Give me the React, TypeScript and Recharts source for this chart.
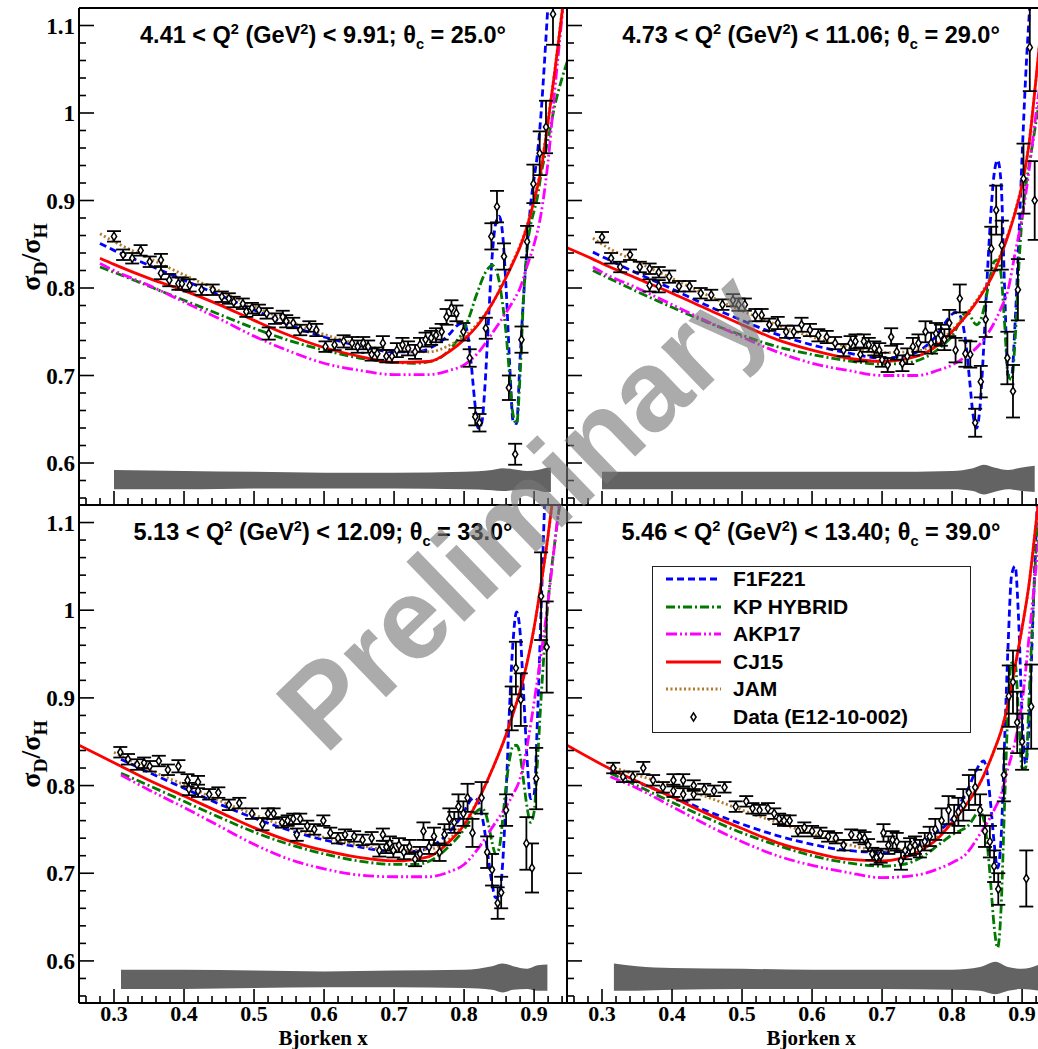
import React from "react";
import { ComposedChart, Line, Area, Scatter, ErrorBar, XAxis, YAxis } from "recharts";

// axis ticks
const X_MAJOR = [0.3, 0.4, 0.5, 0.6, 0.7, 0.8, 0.9];
const X_LABELS = ["0.3", "0.4", "0.5", "0.6", "0.7", "0.8", "0.9"];
const X_MINOR = [0.26, 0.28, 0.32, 0.34, 0.36, 0.38, 0.42, 0.44, 0.46, 0.48, 0.52, 0.54, 0.56, 0.58, 0.62, 0.64, 0.66, 0.68, 0.72, 0.74, 0.76, 0.78, 0.82, 0.84, 0.86, 0.88, 0.92, 0.94];
const Y_MAJOR = [0.6, 0.7, 0.8, 0.9, 1.0, 1.1];
const Y_LABELS = ["0.6", "0.7", "0.8", "0.9", "1", "1.1"];
const Y_MINOR = [0.56, 0.58, 0.62, 0.64, 0.66, 0.68, 0.72, 0.74, 0.76, 0.78, 0.82, 0.84, 0.86, 0.88, 0.92, 0.94, 0.96, 0.98, 1.02, 1.04, 1.06, 1.08];
const X_TICKS = [...X_MAJOR, ...X_MINOR].sort((a, b) => a - b);
const Y_TICKS = [...Y_MAJOR, ...Y_MINOR].sort((a, b) => a - b);
const X_DOMAIN: [number, number] = [0.25, 0.947];
const Y_DOMAIN: [number, number] = [0.552, 1.12];
const X_TITLE = "Bjorken x";

// panel headers
const Q2_LOW = ["4.41", "4.73", "5.13", "5.46"];
const Q2_HIGH = ["9.91", "11.06", "12.09", "13.40"];
const THETA_C = ["25.0", "29.0", "33.0", "39.0"];

const LEGEND_NAMES = ["F1F221", "KP HYBRID", "AKP17", "CJ15", "JAM", "Data (E12-10-002)"];

// ---------- panel 1: 4.41 < Q2 < 9.91 ----------
const P1_SMOOTH_X = [0.28, 0.3, 0.35, 0.4, 0.45, 0.5, 0.55, 0.6, 0.65, 0.7, 0.75, 0.78, 0.8, 0.82, 0.84, 0.86, 0.87, 0.88, 0.89, 0.9, 0.91, 0.92, 0.93, 0.94, 0.95];
const P1_CJ15 = [0.834, 0.827, 0.811, 0.797, 0.781, 0.763, 0.746, 0.732, 0.722, 0.715, 0.716, 0.728, 0.741, 0.758, 0.782, 0.812, 0.829, 0.847, 0.87, 0.9, 0.935, 0.99, 1.05, 1.115, 1.18];
const P1_JAM = [0.862, 0.853, 0.834, 0.815, 0.797, 0.779, 0.762, 0.747, 0.736, 0.728, 0.727, 0.735, 0.745, 0.76, 0.782, 0.813, 0.831, 0.849, 0.872, 0.902, 0.938, 0.993, 1.052, 1.117, 1.18];
const P1_AKP17 = [0.828, 0.82, 0.803, 0.784, 0.765, 0.745, 0.728, 0.714, 0.706, 0.701, 0.701, 0.706, 0.712, 0.726, 0.748, 0.772, 0.785, 0.8, 0.825, 0.85, 0.885, 0.945, 1.03, 1.11, 1.19];
const P1_RES_X = [0.28, 0.3, 0.35, 0.4, 0.45, 0.5, 0.55, 0.6, 0.65, 0.7, 0.73, 0.76, 0.78, 0.79, 0.8, 0.805, 0.81, 0.815, 0.82, 0.825, 0.83, 0.835, 0.84, 0.845, 0.85, 0.855, 0.86, 0.865, 0.87, 0.875, 0.88, 0.885, 0.89, 0.895, 0.9, 0.905, 0.91, 0.915, 0.92, 0.93, 0.94, 0.95];
const P1_F1F221 = [0.851, 0.843, 0.826, 0.809, 0.792, 0.775, 0.758, 0.744, 0.734, 0.727, 0.727, 0.735, 0.748, 0.757, 0.76, 0.748, 0.715, 0.672, 0.64, 0.645, 0.69, 0.765, 0.835, 0.873, 0.882, 0.862, 0.8, 0.715, 0.648, 0.645, 0.72, 0.79, 0.845, 0.895, 0.925, 0.955, 1.0, 1.06, 1.125, 1.22, 1.3, 1.38];
const P1_KP = [0.824, 0.818, 0.802, 0.786, 0.77, 0.754, 0.74, 0.729, 0.72, 0.715, 0.714, 0.718, 0.73, 0.74, 0.752, 0.762, 0.773, 0.786, 0.797, 0.808, 0.817, 0.823, 0.826, 0.822, 0.808, 0.782, 0.748, 0.7, 0.655, 0.645, 0.7, 0.79, 0.845, 0.872, 0.888, 0.905, 0.93, 0.95, 0.97, 1.01, 1.04, 1.065];
const P1_DATA_X = [0.3, 0.313, 0.326, 0.338, 0.351, 0.367, 0.367, 0.379, 0.392, 0.397, 0.408, 0.425, 0.441, 0.454, 0.464, 0.471, 0.484, 0.489, 0.497, 0.507, 0.518, 0.521, 0.53, 0.541, 0.546, 0.556, 0.566, 0.579, 0.589, 0.602, 0.615, 0.628, 0.64, 0.648, 0.656, 0.663, 0.668, 0.676, 0.684, 0.689, 0.697, 0.704, 0.712, 0.72, 0.73, 0.737, 0.745, 0.753, 0.76, 0.768, 0.775, 0.782, 0.789, 0.799, 0.808, 0.816, 0.822, 0.831, 0.839, 0.847, 0.857, 0.864, 0.873, 0.882, 0.89, 0.899, 0.908, 0.917, 0.927];
const P1_DATA_Y = [0.859, 0.838, 0.834, 0.843, 0.83, 0.832, 0.817, 0.809, 0.805, 0.805, 0.803, 0.798, 0.798, 0.79, 0.788, 0.784, 0.782, 0.773, 0.777, 0.775, 0.771, 0.748, 0.765, 0.767, 0.762, 0.76, 0.752, 0.756, 0.752, 0.733, 0.735, 0.739, 0.737, 0.733, 0.737, 0.733, 0.724, 0.725, 0.737, 0.722, 0.722, 0.729, 0.735, 0.731, 0.727, 0.735, 0.741, 0.743, 0.746, 0.75, 0.767, 0.777, 0.771, 0.75, 0.72, 0.653, 0.646, 0.754, 0.859, 0.893, 0.836, 0.686, 0.61, 0.741, 0.853, 0.919, 0.954, 0.984, 1.113];
const P1_DATA_ERR = [0.006, 0.006, 0.006, 0.006, 0.006, 0.007, 0.007, 0.007, 0.007, 0.007, 0.007, 0.006, 0.006, 0.006, 0.006, 0.006, 0.006, 0.006, 0.006, 0.006, 0.006, 0.007, 0.006, 0.007, 0.007, 0.006, 0.006, 0.006, 0.007, 0.006, 0.006, 0.007, 0.007, 0.007, 0.007, 0.007, 0.007, 0.007, 0.008, 0.007, 0.007, 0.008, 0.008, 0.008, 0.008, 0.008, 0.008, 0.008, 0.008, 0.009, 0.009, 0.009, 0.009, 0.01, 0.01, 0.01, 0.01, 0.012, 0.015, 0.018, 0.015, 0.014, 0.012, 0.015, 0.018, 0.022, 0.025, 0.03, 0.035];
const P1_BAND_X = [0.3, 0.4, 0.5, 0.6, 0.7, 0.8, 0.84, 0.855, 0.87, 0.89, 0.905, 0.915, 0.924];
const P1_BAND_LO = [0.57, 0.57, 0.571, 0.571, 0.571, 0.57, 0.569, 0.568, 0.569, 0.57, 0.569, 0.567, 0.567];
const P1_BAND_HI = [0.592, 0.591, 0.59, 0.589, 0.589, 0.59, 0.592, 0.594, 0.593, 0.591, 0.592, 0.594, 0.595];

// ---------- panel 2: 4.73 < Q2 < 11.06 ----------
const P2_SMOOTH_X = [0.25, 0.287, 0.3, 0.35, 0.4, 0.45, 0.5, 0.55, 0.6, 0.65, 0.7, 0.75, 0.78, 0.8, 0.82, 0.84, 0.86, 0.87, 0.88, 0.89, 0.9, 0.91, 0.92, 0.93, 0.94];
const P2_CJ15 = [0.846, 0.833, 0.828, 0.811, 0.794, 0.776, 0.758, 0.741, 0.729, 0.72, 0.716, 0.722, 0.735, 0.75, 0.768, 0.79, 0.818, 0.838, 0.86, 0.886, 0.918, 0.965, 1.04, 1.12, 1.2];
const P2_JAM = [null, 0.857, 0.85, 0.83, 0.811, 0.792, 0.774, 0.758, 0.744, 0.733, 0.726, 0.728, 0.738, 0.752, 0.77, 0.792, 0.82, 0.84, 0.862, 0.888, 0.92, 0.967, 1.04, 1.12, 1.2];
const P2_AKP17 = [null, 0.824, 0.818, 0.8, 0.781, 0.762, 0.744, 0.727, 0.714, 0.706, 0.7, 0.7, 0.706, 0.712, 0.722, 0.736, 0.76, 0.777, 0.798, 0.84, 0.88, 0.935, 1.0, 1.06, 1.12];
const P2_RES_X = [0.287, 0.3, 0.35, 0.4, 0.45, 0.5, 0.55, 0.6, 0.65, 0.7, 0.73, 0.76, 0.78, 0.79, 0.8, 0.805, 0.81, 0.815, 0.82, 0.825, 0.83, 0.835, 0.84, 0.845, 0.85, 0.855, 0.86, 0.865, 0.87, 0.875, 0.88, 0.885, 0.89, 0.895, 0.9, 0.905, 0.91, 0.915, 0.92, 0.93, 0.94];
const P2_F1F221 = [0.841, 0.836, 0.817, 0.799, 0.78, 0.763, 0.747, 0.735, 0.726, 0.72, 0.722, 0.732, 0.748, 0.76, 0.77, 0.772, 0.77, 0.76, 0.735, 0.695, 0.655, 0.64, 0.665, 0.73, 0.81, 0.88, 0.93, 0.946, 0.92, 0.8, 0.7, 0.7, 0.76, 0.85, 0.95, 1.04, 1.11, 1.17, 1.22, 1.3, 1.38];
const P2_KP = [0.82, 0.815, 0.796, 0.778, 0.761, 0.746, 0.733, 0.724, 0.717, 0.713, 0.714, 0.72, 0.73, 0.737, 0.745, 0.752, 0.76, 0.768, 0.772, 0.77, 0.762, 0.758, 0.762, 0.775, 0.795, 0.815, 0.83, 0.832, 0.815, 0.76, 0.7, 0.695, 0.74, 0.82, 0.88, 0.915, 0.94, 0.965, 0.99, 1.04, 1.08];
const P2_DATA_X = [0.3, 0.313, 0.326, 0.34, 0.354, 0.368, 0.368, 0.381, 0.381, 0.396, 0.41, 0.425, 0.441, 0.456, 0.472, 0.487, 0.495, 0.504, 0.519, 0.528, 0.539, 0.551, 0.563, 0.574, 0.585, 0.597, 0.609, 0.621, 0.633, 0.645, 0.655, 0.662, 0.669, 0.674, 0.681, 0.689, 0.696, 0.7, 0.708, 0.713, 0.721, 0.729, 0.736, 0.744, 0.752, 0.762, 0.77, 0.777, 0.784, 0.789, 0.796, 0.805, 0.811, 0.819, 0.826, 0.833, 0.841, 0.848, 0.856, 0.863, 0.871, 0.879, 0.887, 0.894, 0.902, 0.911, 0.918];
const P2_DATA_Y = [0.858, 0.834, 0.824, 0.838, 0.824, 0.822, 0.803, 0.818, 0.802, 0.813, 0.802, 0.802, 0.794, 0.792, 0.781, 0.786, 0.781, 0.781, 0.769, 0.769, 0.758, 0.76, 0.75, 0.75, 0.758, 0.752, 0.746, 0.744, 0.737, 0.729, 0.737, 0.739, 0.724, 0.739, 0.735, 0.731, 0.729, 0.718, 0.712, 0.744, 0.727, 0.714, 0.722, 0.733, 0.737, 0.75, 0.737, 0.748, 0.746, 0.741, 0.76, 0.729, 0.788, 0.725, 0.724, 0.646, 0.693, 0.764, 0.845, 0.889, 0.849, 0.72, 0.682, 0.798, 0.925, 1.075, 0.9];
const P2_DATA_ERR = [0.006, 0.006, 0.006, 0.006, 0.006, 0.006, 0.007, 0.006, 0.007, 0.007, 0.006, 0.006, 0.006, 0.006, 0.006, 0.007, 0.007, 0.007, 0.007, 0.007, 0.007, 0.007, 0.007, 0.007, 0.008, 0.007, 0.007, 0.007, 0.007, 0.007, 0.008, 0.008, 0.008, 0.008, 0.008, 0.008, 0.008, 0.008, 0.008, 0.01, 0.009, 0.009, 0.009, 0.01, 0.01, 0.012, 0.012, 0.012, 0.012, 0.012, 0.015, 0.014, 0.016, 0.015, 0.015, 0.016, 0.018, 0.02, 0.025, 0.028, 0.028, 0.03, 0.03, 0.035, 0.04, 0.05, 0.045];
const P2_BAND_X = [0.3, 0.4, 0.5, 0.6, 0.7, 0.8, 0.83, 0.845, 0.86, 0.88, 0.9, 0.918];
const P2_BAND_LO = [0.57, 0.57, 0.57, 0.57, 0.57, 0.57, 0.568, 0.564, 0.567, 0.57, 0.568, 0.567];
const P2_BAND_HI = [0.59, 0.59, 0.59, 0.59, 0.59, 0.591, 0.594, 0.598, 0.595, 0.592, 0.595, 0.597];

// ---------- panel 3: 5.13 < Q2 < 12.09 ----------
const P3_SMOOTH_X = [0.25, 0.3, 0.31, 0.35, 0.4, 0.45, 0.5, 0.55, 0.6, 0.65, 0.7, 0.75, 0.78, 0.8, 0.82, 0.84, 0.86, 0.87, 0.88, 0.89, 0.9, 0.91, 0.92, 0.93, 0.94, 0.95];
const P3_CJ15 = [0.846, 0.826, 0.822, 0.806, 0.788, 0.77, 0.752, 0.737, 0.726, 0.718, 0.714, 0.719, 0.737, 0.755, 0.783, 0.818, 0.858, 0.882, 0.908, 0.94, 0.98, 1.03, 1.085, 1.15, 1.22, 1.3];
const P3_JAM = [null, 0.838, 0.834, 0.818, 0.801, 0.783, 0.767, 0.752, 0.741, 0.732, 0.726, 0.727, 0.74, 0.757, 0.784, 0.818, 0.858, 0.882, 0.908, 0.94, 0.98, 1.03, 1.085, 1.15, 1.22, 1.3];
const P3_AKP17 = [null, null, 0.812, 0.795, 0.775, 0.754, 0.733, 0.716, 0.705, 0.698, 0.696, 0.696, 0.702, 0.71, 0.728, 0.752, 0.776, 0.79, 0.808, 0.845, 0.895, 0.95, 1.01, 1.08, 1.15, 1.22];
const P3_RES_X = [0.31, 0.35, 0.4, 0.45, 0.5, 0.55, 0.6, 0.65, 0.7, 0.73, 0.76, 0.78, 0.79, 0.8, 0.805, 0.81, 0.815, 0.82, 0.825, 0.83, 0.835, 0.84, 0.845, 0.85, 0.855, 0.86, 0.865, 0.87, 0.875, 0.88, 0.885, 0.89, 0.895, 0.9, 0.905, 0.91, 0.915, 0.92, 0.93, 0.94, 0.95];
const P3_F1F221 = [0.83, 0.815, 0.797, 0.779, 0.763, 0.749, 0.738, 0.73, 0.725, 0.725, 0.734, 0.748, 0.758, 0.77, 0.778, 0.784, 0.786, 0.782, 0.768, 0.745, 0.715, 0.688, 0.672, 0.675, 0.71, 0.79, 0.89, 0.965, 0.998, 0.975, 0.905, 0.83, 0.785, 0.79, 0.88, 1.0, 1.12, 1.22, 1.3, 1.38, 1.45];
const P3_KP = [0.814, 0.8, 0.782, 0.764, 0.747, 0.733, 0.722, 0.714, 0.71, 0.71, 0.718, 0.732, 0.74, 0.75, 0.756, 0.762, 0.768, 0.772, 0.774, 0.77, 0.755, 0.735, 0.722, 0.728, 0.76, 0.8, 0.83, 0.845, 0.846, 0.835, 0.805, 0.775, 0.758, 0.77, 0.83, 0.9, 0.96, 1.01, 1.08, 1.14, 1.2];
const P3_DATA_X = [0.309, 0.32, 0.333, 0.343, 0.351, 0.364, 0.377, 0.392, 0.405, 0.407, 0.42, 0.42, 0.436, 0.449, 0.464, 0.479, 0.497, 0.512, 0.52, 0.528, 0.54, 0.548, 0.556, 0.561, 0.566, 0.576, 0.586, 0.599, 0.609, 0.62, 0.63, 0.643, 0.655, 0.668, 0.679, 0.684, 0.689, 0.694, 0.699, 0.707, 0.714, 0.722, 0.73, 0.737, 0.742, 0.75, 0.757, 0.765, 0.772, 0.779, 0.786, 0.792, 0.799, 0.805, 0.812, 0.825, 0.833, 0.84, 0.848, 0.853, 0.86, 0.868, 0.874, 0.881, 0.889, 0.897, 0.903, 0.91, 0.918];
const P3_DATA_Y = [0.838, 0.83, 0.824, 0.826, 0.822, 0.828, 0.818, 0.822, 0.806, 0.796, 0.804, 0.794, 0.79, 0.792, 0.778, 0.78, 0.768, 0.756, 0.768, 0.768, 0.758, 0.76, 0.762, 0.744, 0.762, 0.754, 0.75, 0.76, 0.746, 0.74, 0.744, 0.742, 0.738, 0.74, 0.726, 0.744, 0.73, 0.734, 0.726, 0.732, 0.724, 0.73, 0.716, 0.722, 0.748, 0.73, 0.742, 0.724, 0.744, 0.762, 0.758, 0.776, 0.768, 0.786, 0.746, 0.786, 0.724, 0.704, 0.666, 0.678, 0.772, 0.888, 0.934, 0.898, 0.734, 0.706, 0.808, 1.016, 0.958];
const P3_DATA_ERR = [0.006, 0.006, 0.006, 0.006, 0.006, 0.006, 0.006, 0.007, 0.007, 0.007, 0.007, 0.007, 0.006, 0.006, 0.006, 0.006, 0.006, 0.007, 0.006, 0.006, 0.006, 0.006, 0.006, 0.007, 0.006, 0.006, 0.006, 0.006, 0.006, 0.006, 0.006, 0.006, 0.006, 0.007, 0.007, 0.007, 0.007, 0.008, 0.008, 0.008, 0.008, 0.008, 0.008, 0.008, 0.01, 0.008, 0.01, 0.01, 0.012, 0.012, 0.012, 0.014, 0.014, 0.016, 0.016, 0.018, 0.018, 0.018, 0.018, 0.018, 0.018, 0.025, 0.03, 0.03, 0.03, 0.028, 0.035, 0.05, 0.052];
const P3_BAND_X = [0.31, 0.4, 0.5, 0.6, 0.7, 0.8, 0.84, 0.855, 0.87, 0.89, 0.905, 0.919];
const P3_BAND_LO = [0.568, 0.568, 0.569, 0.57, 0.57, 0.569, 0.567, 0.564, 0.567, 0.568, 0.566, 0.566];
const P3_BAND_HI = [0.59, 0.59, 0.589, 0.588, 0.589, 0.59, 0.594, 0.597, 0.594, 0.591, 0.595, 0.596];

// ---------- panel 4: 5.46 < Q2 < 13.40 ----------
const P4_SMOOTH_X = [0.25, 0.312, 0.35, 0.4, 0.45, 0.5, 0.55, 0.6, 0.65, 0.7, 0.75, 0.78, 0.8, 0.82, 0.84, 0.86, 0.87, 0.88, 0.89, 0.9, 0.91, 0.92, 0.93, 0.94];
const P4_CJ15 = [0.846, 0.819, 0.805, 0.787, 0.768, 0.751, 0.735, 0.724, 0.716, 0.714, 0.724, 0.74, 0.758, 0.778, 0.803, 0.84, 0.862, 0.893, 0.936, 0.98, 1.03, 1.1, 1.17, 1.25];
const P4_JAM = [null, 0.822, 0.812, 0.8, 0.787, 0.772, 0.758, 0.745, 0.733, 0.726, 0.73, 0.742, 0.758, 0.778, 0.803, 0.84, 0.862, 0.893, 0.936, 0.98, 1.03, 1.1, 1.17, 1.25];
const P4_AKP17 = [null, 0.81, 0.797, 0.776, 0.755, 0.736, 0.72, 0.709, 0.701, 0.695, 0.698, 0.705, 0.712, 0.722, 0.745, 0.772, 0.79, 0.82, 0.85, 0.895, 0.97, 1.05, 1.13, 1.21];
const P4_RES_X = [0.312, 0.35, 0.4, 0.45, 0.5, 0.55, 0.6, 0.65, 0.7, 0.73, 0.76, 0.78, 0.79, 0.8, 0.805, 0.81, 0.815, 0.82, 0.825, 0.83, 0.835, 0.84, 0.845, 0.85, 0.855, 0.86, 0.865, 0.87, 0.875, 0.88, 0.885, 0.89, 0.895, 0.9, 0.905, 0.91, 0.915, 0.92, 0.93, 0.94];
const P4_F1F221 = [0.816, 0.804, 0.788, 0.771, 0.756, 0.743, 0.733, 0.726, 0.724, 0.726, 0.736, 0.748, 0.754, 0.762, 0.768, 0.776, 0.785, 0.792, 0.8, 0.81, 0.818, 0.825, 0.828, 0.815, 0.78, 0.735, 0.706, 0.74, 0.85, 0.96, 1.04, 1.05, 0.99, 0.88, 0.825, 0.87, 0.98, 1.09, 1.25, 1.35];
const P4_KP = [0.814, 0.8, 0.781, 0.763, 0.746, 0.732, 0.72, 0.712, 0.708, 0.71, 0.72, 0.732, 0.738, 0.744, 0.746, 0.748, 0.75, 0.752, 0.756, 0.762, 0.768, 0.77, 0.762, 0.735, 0.69, 0.64, 0.615, 0.66, 0.78, 0.89, 0.94, 0.94, 0.88, 0.82, 0.82, 0.9, 0.99, 1.07, 1.18, 1.25];
const P4_DATA_X = [0.316, 0.33, 0.344, 0.359, 0.373, 0.387, 0.402, 0.402, 0.416, 0.416, 0.431, 0.431, 0.446, 0.46, 0.475, 0.491, 0.506, 0.515, 0.525, 0.537, 0.546, 0.553, 0.56, 0.568, 0.58, 0.589, 0.6, 0.612, 0.623, 0.634, 0.645, 0.656, 0.668, 0.675, 0.68, 0.686, 0.692, 0.698, 0.702, 0.709, 0.715, 0.721, 0.727, 0.733, 0.74, 0.747, 0.754, 0.761, 0.768, 0.776, 0.785, 0.795, 0.803, 0.809, 0.816, 0.824, 0.833, 0.84, 0.847, 0.854, 0.86, 0.866, 0.874, 0.881, 0.887, 0.893, 0.9, 0.906, 0.913];
const P4_DATA_Y = [0.82, 0.81, 0.81, 0.82, 0.806, 0.798, 0.806, 0.794, 0.806, 0.79, 0.8, 0.79, 0.796, 0.794, 0.798, 0.776, 0.782, 0.774, 0.772, 0.774, 0.768, 0.762, 0.76, 0.76, 0.748, 0.752, 0.748, 0.746, 0.742, 0.74, 0.732, 0.744, 0.742, 0.74, 0.732, 0.722, 0.718, 0.72, 0.746, 0.732, 0.738, 0.736, 0.714, 0.726, 0.73, 0.732, 0.728, 0.736, 0.742, 0.75, 0.76, 0.772, 0.762, 0.77, 0.778, 0.792, 0.798, 0.772, 0.748, 0.736, 0.708, 0.682, 0.812, 0.902, 0.918, 0.872, 0.85, 0.694, 0.89];
const P4_DATA_ERR = [0.006, 0.006, 0.006, 0.007, 0.006, 0.006, 0.007, 0.007, 0.007, 0.007, 0.006, 0.006, 0.006, 0.006, 0.006, 0.006, 0.006, 0.006, 0.006, 0.006, 0.006, 0.006, 0.006, 0.006, 0.006, 0.006, 0.006, 0.006, 0.006, 0.006, 0.006, 0.006, 0.007, 0.007, 0.007, 0.007, 0.008, 0.008, 0.01, 0.01, 0.01, 0.01, 0.01, 0.01, 0.01, 0.01, 0.01, 0.01, 0.011, 0.012, 0.014, 0.016, 0.016, 0.016, 0.018, 0.02, 0.02, 0.018, 0.018, 0.018, 0.018, 0.018, 0.03, 0.035, 0.036, 0.035, 0.032, 0.032, 0.048];
const P4_BAND_X = [0.317, 0.35, 0.4, 0.5, 0.6, 0.7, 0.8, 0.84, 0.862, 0.88, 0.9, 0.925];
const P4_BAND_LO = [0.566, 0.566, 0.567, 0.568, 0.568, 0.568, 0.567, 0.566, 0.562, 0.566, 0.568, 0.566];
const P4_BAND_HI = [0.597, 0.594, 0.592, 0.591, 0.59, 0.59, 0.59, 0.593, 0.599, 0.593, 0.591, 0.596];

const PANELS = [
  { smoothX: P1_SMOOTH_X, cj15: P1_CJ15, jam: P1_JAM, akp17: P1_AKP17, resX: P1_RES_X, f1f221: P1_F1F221, kp: P1_KP, dataX: P1_DATA_X, dataY: P1_DATA_Y, dataErr: P1_DATA_ERR, bandX: P1_BAND_X, bandLo: P1_BAND_LO, bandHi: P1_BAND_HI },
  { smoothX: P2_SMOOTH_X, cj15: P2_CJ15, jam: P2_JAM, akp17: P2_AKP17, resX: P2_RES_X, f1f221: P2_F1F221, kp: P2_KP, dataX: P2_DATA_X, dataY: P2_DATA_Y, dataErr: P2_DATA_ERR, bandX: P2_BAND_X, bandLo: P2_BAND_LO, bandHi: P2_BAND_HI },
  { smoothX: P3_SMOOTH_X, cj15: P3_CJ15, jam: P3_JAM, akp17: P3_AKP17, resX: P3_RES_X, f1f221: P3_F1F221, kp: P3_KP, dataX: P3_DATA_X, dataY: P3_DATA_Y, dataErr: P3_DATA_ERR, bandX: P3_BAND_X, bandLo: P3_BAND_LO, bandHi: P3_BAND_HI },
  { smoothX: P4_SMOOTH_X, cj15: P4_CJ15, jam: P4_JAM, akp17: P4_AKP17, resX: P4_RES_X, f1f221: P4_F1F221, kp: P4_KP, dataX: P4_DATA_X, dataY: P4_DATA_Y, dataErr: P4_DATA_ERR, bandX: P4_BAND_X, bandLo: P4_BAND_LO, bandHi: P4_BAND_HI },
];

// styles
const SERIF = "'Liberation Serif', 'DejaVu Serif', serif";
const SANS = "'Liberation Sans', Arial, Helvetica, sans-serif";
const LW = 2.8;
const STYLES = [
  { color: "#0000ff", dash: "7 4" },
  { color: "#007a00", dash: "9 3 2 3" },
  { color: "#ff00ff", dash: "11 3 2 3 2 3" },
  { color: "#ff0000", dash: undefined },
  { color: "#b5792a", dash: "2 2.5" },
];

const pts = (xs: number[], ys: (number | null)[]) => xs.map((x, i) => ({ x, y: ys[i] }));

function XTick(props: any) {
  const { x, y, payload, withLabel } = props;
  const idx = X_MAJOR.findIndex((m) => Math.abs(m - payload.value) < 1e-6);
  const len = idx >= 0 ? 14 : 7;
  return (
    <g>
      <line x1={x} x2={x} y1={y} y2={y - len} stroke="#000" strokeWidth={1.6} />
      {withLabel && idx >= 0 && (
        <text x={x} y={y + 18} textAnchor="middle" fontFamily={SERIF} fontWeight="bold" fontSize={22} fill="#000">
          {X_LABELS[idx]}
        </text>
      )}
    </g>
  );
}

function YTick(props: any) {
  const { x, y, payload, withLabel } = props;
  const idx = Y_MAJOR.findIndex((m) => Math.abs(m - payload.value) < 1e-6);
  const len = idx >= 0 ? 15 : 7;
  return (
    <g>
      <line x1={x} x2={x + len} y1={y} y2={y} stroke="#000" strokeWidth={1.6} />
      {withLabel && idx >= 0 && (
        <text x={x - 4} y={y + 8} textAnchor="end" fontFamily={SERIF} fontWeight="bold" fontSize={23} fill="#000">
          {Y_LABELS[idx]}
        </text>
      )}
    </g>
  );
}

const Diamond = (p: any) => {
  const { cx, cy } = p;
  if (cx == null || cy == null) return null;
  return (
    <polygon
      points={`${cx},${cy - 4.2} ${cx + 2.6},${cy} ${cx},${cy + 4.2} ${cx - 2.6},${cy}`}
      fill="#fff"
      stroke="#000"
      strokeWidth={1.5}
    />
  );
};

function Panel({ idx, left, top, bottom, yLabels }: { idx: number; left: number; top: number; bottom: boolean; yLabels: boolean }) {
  const d = PANELS[idx];
  const plotTop = 1; // top frame axis takes one pixel
  const yAxisW = yLabels ? 79 : 1;
  const plotH = bottom ? 498 : 497;
  const xAxisH = bottom ? 46 : 1;
  const chartW = yAxisW + 488 + 1;
  const chartH = plotTop + plotH + xAxisH;
  const plotCx = yAxisW + 244;
  const band = d.bandX.map((x, i) => ({ x, band: [d.bandLo[i], d.bandHi[i]] }));
  const scatter = d.dataX.map((x, i) => ({ x, y: d.dataY[i], err: d.dataErr[i] }));
  const frame = { stroke: "#000", strokeWidth: 2 };
  const lines = [
    { data: pts(d.resX, d.f1f221), s: STYLES[0] },
    { data: pts(d.resX, d.kp), s: STYLES[1] },
    { data: pts(d.smoothX, d.akp17), s: STYLES[2] },
    { data: pts(d.smoothX, d.jam), s: STYLES[4] },
    { data: pts(d.smoothX, d.cj15), s: STYLES[3] },
  ];

  return (
    <div style={{ position: "absolute", left, top, width: chartW, height: chartH }}>
      <ComposedChart width={chartW} height={chartH} margin={{ top: 0, right: 0, bottom: 0, left: 0 }}>
        <XAxis
          type="number"
          dataKey="x"
          domain={X_DOMAIN}
          allowDataOverflow
          ticks={X_TICKS}
          interval={0}
          height={xAxisH}
          tickSize={0}
          tickMargin={0}
          tickLine={false}
          axisLine={frame}
          tick={(p: any) => <XTick {...p} withLabel={bottom} />}
        />
        <XAxis xAxisId="top" orientation="top" type="number" domain={X_DOMAIN} height={1} tick={false} tickLine={false} axisLine={frame} />
        <YAxis
          type="number"
          dataKey="y"
          domain={Y_DOMAIN}
          allowDataOverflow
          ticks={Y_TICKS}
          interval={0}
          width={yAxisW}
          tickSize={0}
          tickMargin={0}
          tickLine={false}
          axisLine={frame}
          tick={(p: any) => <YTick {...p} withLabel={yLabels} />}
        />
        <YAxis yAxisId="right" orientation="right" type="number" domain={Y_DOMAIN} width={1} tick={false} tickLine={false} axisLine={frame} />
        <Area data={band} dataKey="band" type="monotone" stroke="none" fill="#636363" fillOpacity={1} isAnimationActive={false} />
        {lines.map((l, i) => (
          <Line
            key={i}
            data={l.data}
            dataKey="y"
            type="monotone"
            stroke={l.s.color}
            strokeWidth={LW}
            strokeDasharray={l.s.dash}
            dot={false}
            activeDot={false}
            isAnimationActive={false}
          />
        ))}
        <Scatter data={scatter} dataKey="y" shape={Diamond} isAnimationActive={false}>
          <ErrorBar dataKey="err" direction="y" width={7} stroke="#000" strokeWidth={1.8} />
        </Scatter>
      </ComposedChart>

      <div
        style={{
          position: "absolute",
          left: plotCx - 270,
          width: 540,
          top: plotTop + 35 - 19.5,
          textAlign: "center",
          fontFamily: SANS,
          fontWeight: "bold",
          fontSize: 23.5,
          lineHeight: "23px",
          whiteSpace: "nowrap",
          color: "#000",
        }}
      >
        {Q2_LOW[idx]} &lt; Q<sup style={{ fontSize: "0.62em", lineHeight: 0 }}>2</sup> (GeV<sup style={{ fontSize: "0.62em", lineHeight: 0 }}>2</sup>) &lt; {Q2_HIGH[idx]}; θ
        <sub style={{ fontSize: "0.62em", lineHeight: 0 }}>c</sub> = {THETA_C[idx]}°
      </div>

      {yLabels && (
        <div
          style={{
            position: "absolute",
            left: 31,
            top: plotTop + 249,
            transform: "translate(-50%, -50%) rotate(-90deg)",
            fontFamily: SERIF,
            fontWeight: "bold",
            fontSize: 28,
            lineHeight: 1,
            whiteSpace: "nowrap",
            color: "#000",
          }}
        >
          σ<sub style={{ fontSize: "0.7em", lineHeight: 0 }}>D</sub>/σ<sub style={{ fontSize: "0.7em", lineHeight: 0 }}>H</sub>
        </div>
      )}

      {bottom && (
        <div
          style={{
            position: "absolute",
            left: plotCx - 100,
            width: 200,
            top: plotTop + plotH + 25,
            textAlign: "center",
            fontFamily: SERIF,
            fontWeight: "bold",
            fontSize: 21,
            lineHeight: "21px",
            whiteSpace: "nowrap",
            color: "#000",
          }}
        >
          {X_TITLE}
        </div>
      )}
    </div>
  );
}

function LegendBox() {
  return (
    <div
      style={{
        position: "absolute",
        left: 652,
        top: 566,
        width: 319,
        height: 167,
        border: "1.5px solid #222",
        background: "#fff",
        boxSizing: "border-box",
      }}
    >
      {LEGEND_NAMES.map((name, i) => (
        <div key={name} style={{ position: "absolute", left: 0, top: 12 + i * 27.6 - 12, width: "100%", height: 24 }}>
          <svg width={72} height={24} style={{ position: "absolute", left: 0, top: 0 }}>
            {i < 5 ? (
              <line x1={13} x2={68} y1={12} y2={12} stroke={STYLES[i].color} strokeWidth={LW} strokeDasharray={STYLES[i].dash} />
            ) : (
              <Diamond cx={40.5} cy={12} />
            )}
          </svg>
          <span
            style={{
              position: "absolute",
              left: 80,
              top: 0,
              lineHeight: "24px",
              fontFamily: SANS,
              fontWeight: "bold",
              fontSize: 21,
              whiteSpace: "nowrap",
              color: "#000",
            }}
          >
            {name}
          </span>
        </div>
      ))}
    </div>
  );
}

export default function App() {
  return (
    <div style={{ position: "absolute", left: 0, top: 0, width: 1038, height: 1049, overflow: "hidden", background: "#fff" }}>
      <Panel idx={0} left={0} top={7} bottom={false} yLabels={true} />
      <Panel idx={1} left={566} top={7} bottom={false} yLabels={false} />
      <Panel idx={2} left={0} top={504} bottom={true} yLabels={true} />
      <Panel idx={3} left={566} top={504} bottom={true} yLabels={false} />
      <LegendBox />
      <div
        style={{
          position: "absolute",
          left: 523,
          top: 510,
          transform: "translate(-50%, -50%) rotate(-44deg)",
          fontFamily: SANS,
          fontWeight: "bold",
          fontSize: 115,
          lineHeight: 1,
          whiteSpace: "nowrap",
          color: "rgba(120,120,120,0.62)",
          pointerEvents: "none",
        }}
      >
        Preliminary
      </div>
    </div>
  );
}
